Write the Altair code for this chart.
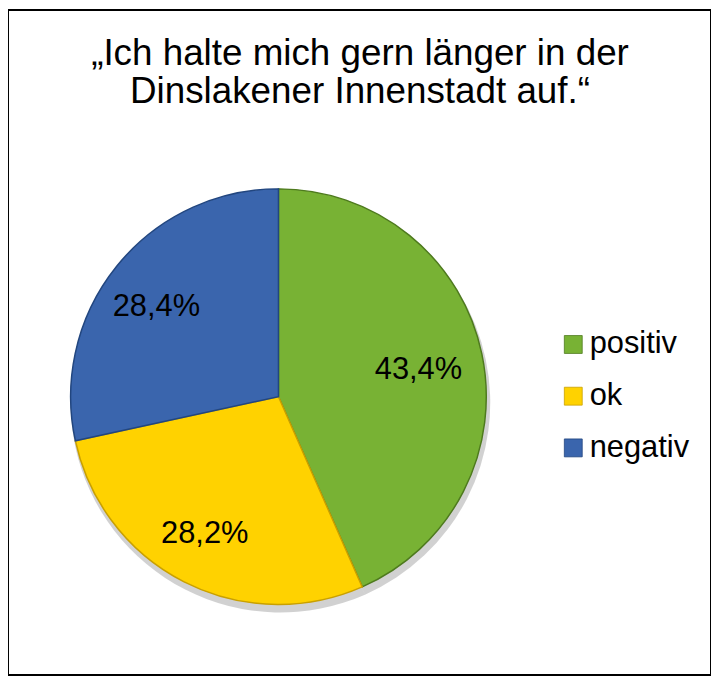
import altair as alt
import pandas as pd

categories = ["positiv", "ok", "negativ"]
shares = [43.4, 28.2, 28.4]
labels = ["43,4%", "28,2%", "28,4%"]
title_lines = ["\u201eIch halte mich gern länger in der", "Dinslakener Innenstadt auf.\u201c"]

fill_colors = ["#78B234", "#FFD200", "#3A65AD"]
edge_colors = ["#4E7A1E", "#C9A000", "#22467F"]

df = pd.DataFrame({"cat": categories, "val": shares, "label": labels, "order": [0, 1, 2]})
tdf = pd.DataFrame({"line": title_lines, "row": [0, 1]})

W, H = 707, 669
CX, CY, R = 272, 389, 209

base = alt.Chart(df)

shadow = base.mark_arc(radius=R + 2, color="#000000", opacity=0.18, stroke=None).encode(
    theta=alt.Theta("val:Q", stack=True),
    order=alt.Order("order:Q"),
    x=alt.value(CX + 2),
    y=alt.value(CY + 6),
)

pie = base.mark_arc(radius=R, strokeWidth=1.5).encode(
    theta=alt.Theta("val:Q", stack=True),
    order=alt.Order("order:Q"),
    fill=alt.Fill(
        "cat:N",
        scale=alt.Scale(domain=categories, range=fill_colors),
        sort=categories,
        legend=alt.Legend(
            title=None,
            orient="none",
            legendX=553,
            legendY=321,
            labelFontSize=31,
            labelFont="Liberation Sans",
            labelColor="#000000",
            symbolType="square",
            symbolSize=324,
            symbolStrokeColor="#333333",
            symbolStrokeWidth=0.8,
            rowPadding=20,
            labelOffset=1,
        ),
    ),
    stroke=alt.Stroke("cat:N", scale=alt.Scale(domain=categories, range=edge_colors), legend=None),
    x=alt.value(CX),
    y=alt.value(CY),
)

text = base.mark_text(radius=150, fontSize=31, font="Liberation Sans", color="#000000", baseline="middle").encode(
    theta=alt.Theta("val:Q", stack=True),
    order=alt.Order("order:Q"),
    text="label:N",
    x=alt.value(CX - 6),
    y=alt.value(CY + 4),
)

title = alt.Chart(tdf).mark_text(fontSize=37, font="Liberation Sans", color="#000000", baseline="alphabetic", align="center").encode(
    text="line:N",
    x=alt.value(354),
    y=alt.Y("row:Q", scale=alt.Scale(domain=[0, 1], range=[55, 94]), axis=None),
)

chart = alt.layer(shadow, pie, text, title).properties(
    width=W, height=H, padding=0, background="#FFFFFF",
    autosize=alt.AutoSizeParams(type="none"),
).configure_view(stroke="#000000", strokeWidth=2)

chart.save("out.html", embed_options={"renderer": "svg", "actions": False})
